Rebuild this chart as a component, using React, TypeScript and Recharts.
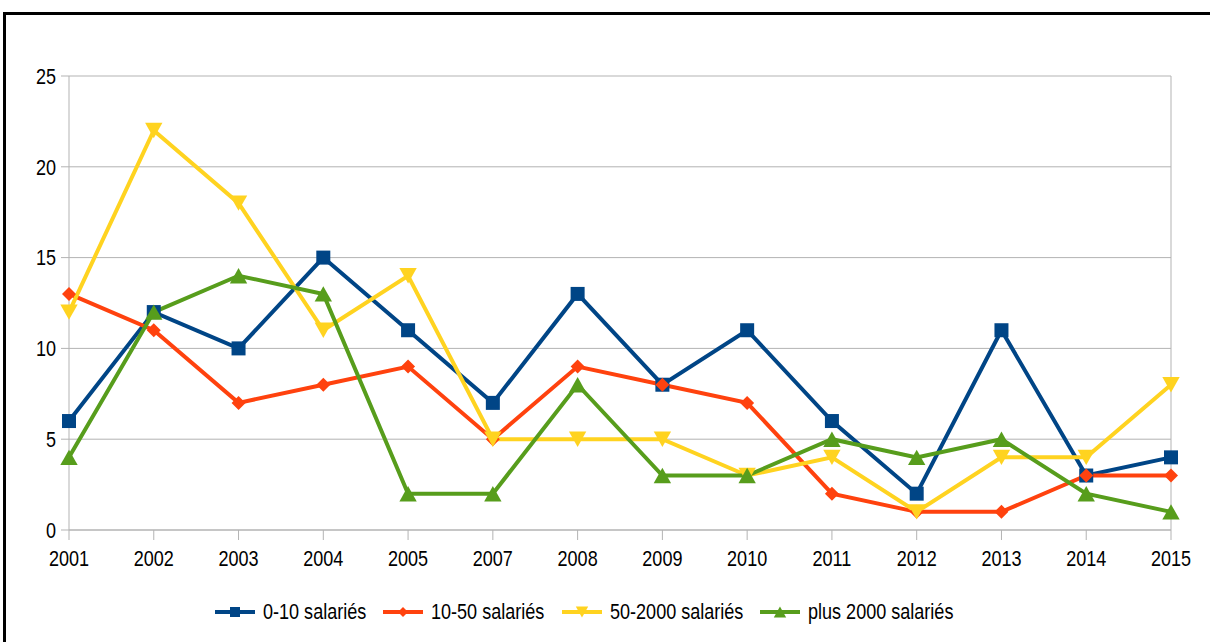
import React from 'react';
import { LineChart, Line, XAxis, YAxis, CartesianGrid, Legend, ReferenceLine } from 'recharts';

const years = ['2001', '2002', '2003', '2004', '2005', '2007', '2008', '2009', '2010', '2011', '2012', '2013', '2014', '2015'];
const small = [6, 12, 10, 15, 11, 7, 13, 8, 11, 6, 2, 11, 3, 4];
const medium = [13, 11, 7, 8, 9, 5, 9, 8, 7, 2, 1, 1, 3, 3];
const large = [12, 22, 18, 11, 14, 5, 5, 5, 3, 4, 1, 4, 4, 8];
const huge = [4, 12, 14, 13, 2, 2, 8, 3, 3, 5, 4, 5, 2, 1];
const yTicks = [0, 5, 10, 15, 20, 25];
const seriesNames = ['0-10 salariés', '10-50 salariés', '50-2000 salariés', 'plus 2000 salariés'];

const data = years.map((y, i) => ({ year: y, s1: small[i], s2: medium[i], s3: large[i], s4: huge[i] }));

const FONT = '"Liberation Sans Narrow", "Liberation Sans", Arial, sans-serif';
const GRID = '#b3b3b3';
const SX = 0.82;
const FS = 22;

type Shape = 'square' | 'diamond' | 'down' | 'up';

const series: { key: string; name: string; color: string; shape: Shape; w: number }[] = [
  { key: 's1', name: seriesNames[0], color: '#004586', shape: 'square', w: 168 },
  { key: 's2', name: seriesNames[1], color: '#ff420e', shape: 'diamond', w: 179 },
  { key: 's3', name: seriesNames[2], color: '#ffd320', shape: 'down', w: 198 },
  { key: 's4', name: seriesNames[3], color: '#579d1c', shape: 'up', w: 220 },
];

function marker(shape: Shape, cx: number, cy: number, color: string, s: number, key?: any) {
  if (shape === 'square') {
    return <rect key={key} x={cx - s / 2} y={cy - s / 2} width={s} height={s} fill={color} />;
  }
  if (shape === 'diamond') {
    const h = s * 0.5;
    return <polygon key={key} points={`${cx},${cy - h} ${cx + h},${cy} ${cx},${cy + h} ${cx - h},${cy}`} fill={color} />;
  }
  const w = s * 0.62;
  const h = s * 0.55;
  if (shape === 'down') {
    return <polygon key={key} points={`${cx - w},${cy - h} ${cx + w},${cy - h} ${cx},${cy + h}`} fill={color} />;
  }
  return <polygon key={key} points={`${cx - w},${cy + h} ${cx + w},${cy + h} ${cx},${cy - h}`} fill={color} />;
}

const makeDot = (shape: Shape, color: string) => (props: any) => {
  const { cx, cy, index } = props;
  if (cx == null || cy == null) return <g key={`d${index}`} />;
  return marker(shape, cx, cy, color, 14, `d${shape}${index}`);
};

const NarrowTick = (props: any) => {
  const { x, y, payload, textAnchor, vert } = props;
  return (
    <text
      transform={`translate(${x},${y}) scale(${SX},1)`}
      x={0}
      y={0}
      dy={vert === 'x' ? '0.71em' : '0.355em'}
      textAnchor={textAnchor}
      fontFamily={FONT}
      fontSize={FS}
      fill="#000"
    >
      {payload.value}
    </text>
  );
};

const LegendContent = () => (
  <div style={{ display: 'flex', alignItems: 'center', paddingLeft: 215, paddingTop: 30, height: 24, fontFamily: FONT, fontSize: FS, color: '#000' }}>
    {series.map((s) => (
      <div key={s.key} style={{ display: 'flex', alignItems: 'center', width: s.w, flex: 'none' }}>
        <svg width={40} height={20} style={{ marginRight: 8, flex: 'none' }}>
          <line x1={0} y1={10} x2={40} y2={10} stroke={s.color} strokeWidth={4} />
          {marker(s.shape, 20, 10, s.color, 10)}
        </svg>
        <span style={{ whiteSpace: 'nowrap', display: 'inline-block', transform: `scaleX(${SX})`, transformOrigin: 'left center' }}>{s.name}</span>
      </div>
    ))}
  </div>
);

export default function App() {
  return (
    <div style={{ position: 'absolute', left: 0, top: 0, width: 1210, height: 642, overflow: 'hidden', background: '#fff' }}>
      <div style={{ position: 'absolute', left: 3, top: 12, width: 1230, height: 700, border: '3px solid #000', boxSizing: 'border-box' }} />
      <div style={{ position: 'absolute', left: 0, top: 0 }}>
        <LineChart width={1210} height={642} data={data} margin={{ top: 76, right: 39, left: 0, bottom: 0 }}>
          <CartesianGrid horizontal vertical={false} stroke={GRID} />
          <XAxis
            dataKey="year"
            stroke={GRID}
            tickSize={10}
            tickMargin={10}
            height={40}
            interval={0}
            tick={<NarrowTick vert="x" />}
          />
          <YAxis
            domain={[0, 25]}
            ticks={yTicks}
            width={69}
            stroke={GRID}
            tickSize={8}
            tickMargin={5}
            tick={<NarrowTick vert="y" />}
          />
          <ReferenceLine x="2015" stroke={GRID} />
          <Legend verticalAlign="bottom" content={<LegendContent />} wrapperStyle={{ left: 0, width: 1210, height: 72 }} />
          {series.map((s) => (
            <Line
              key={s.key}
              dataKey={s.key}
              name={s.name}
              stroke={s.color}
              strokeWidth={4}
              dot={makeDot(s.shape, s.color)}
              activeDot={false}
              isAnimationActive={false}
              type="linear"
            />
          ))}
        </LineChart>
      </div>
    </div>
  );
}
